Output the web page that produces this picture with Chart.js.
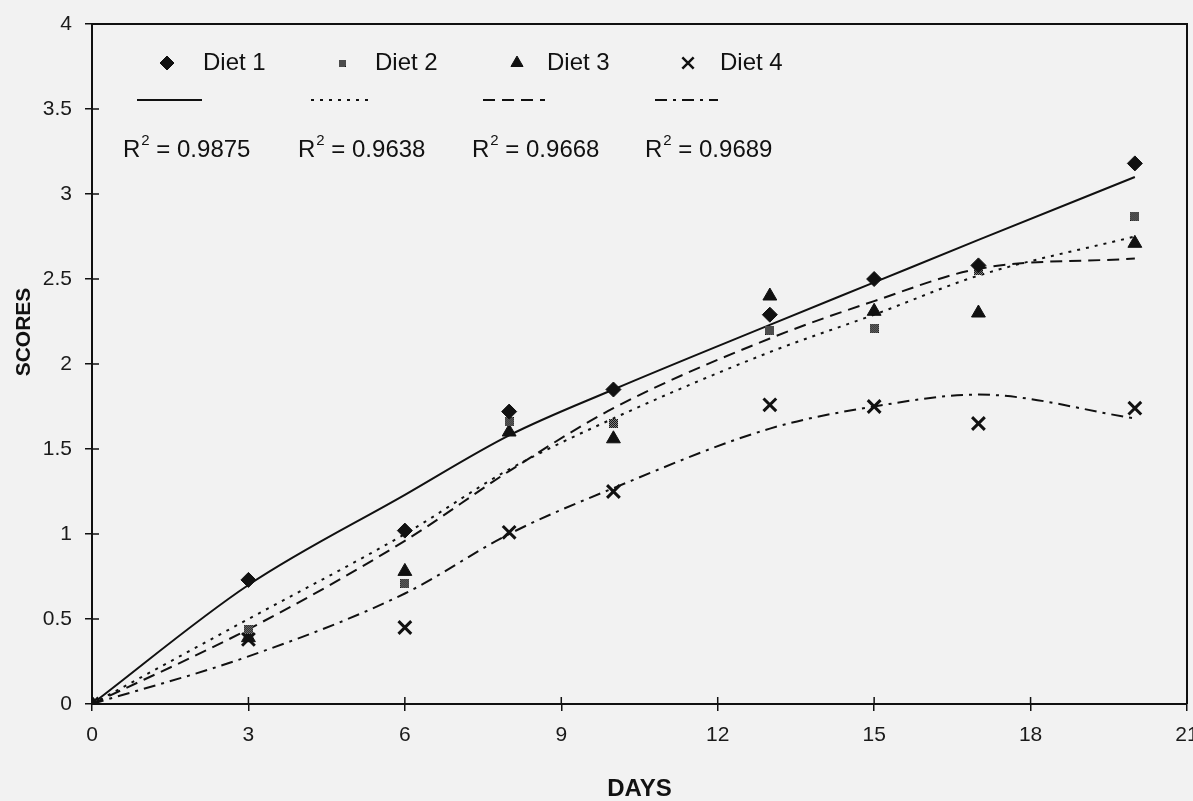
<!DOCTYPE html>
<html><head><meta charset="utf-8">
<script src="https://cdn.jsdelivr.net/npm/chart.js@4.4.0/dist/chart.umd.min.js"></script>
<style>html,body{margin:0;padding:0;background:#f2f2f2;} canvas{display:block;}</style>
</head><body>
<canvas id="c" width="1193" height="801"></canvas>
<script>
// ---- data ----
const days   = [0, 3, 6, 8, 10, 13, 15, 17, 20];
const diet1  = [0, 0.73, 1.02, 1.72, 1.85, 2.29, 2.50, 2.58, 3.18];
const diet2  = [0, 0.44, 0.71, 1.66, 1.65, 2.20, 2.21, 2.55, 2.87];
const diet3  = [0, 0.39, 0.78, 1.60, 1.56, 2.40, 2.31, 2.30, 2.71];
const diet4  = [0, 0.38, 0.45, 1.01, 1.25, 1.76, 1.75, 1.65, 1.74];
// polynomial trend lines as drawn in the picture
const trend1 = [0, 0.70, 1.23, 1.58, 1.85, 2.23, 2.48, 2.73, 3.10];
const trend2 = [0, 0.50, 1.00, 1.38, 1.68, 2.07, 2.29, 2.52, 2.75];
const trend3 = [0, 0.44, 0.96, 1.37, 1.74, 2.15, 2.37, 2.56, 2.62];
const trend4 = [0, 0.28, 0.65, 1.00, 1.27, 1.62, 1.75, 1.82, 1.68];
const seriesNames = ['Diet 1', 'Diet 2', 'Diet 3', 'Diet 4'];
const rSquared    = ['0.9875', '0.9638', '0.9668', '0.9689'];
const xTickLabels = ['0', '3', '6', '9', '12', '15', '18', '21'];
const yTickLabels = ['0', '0.5', '1', '1.5', '2', '2.5', '3', '3.5', '4'];
const xTitle = 'DAYS';
const yTitle = 'SCORES';

// ---- styles ----
const INK = '#111';
const FONT = '"Liberation Sans", Arial, Helvetica, sans-serif';

function hatchMarker(size) {
  const cv = document.createElement('canvas');
  cv.width = size; cv.height = size;
  const g = cv.getContext('2d');
  g.fillStyle = '#888'; g.fillRect(0, 0, size, size);
  g.fillStyle = '#111';
  for (let i = 0; i < size; i++) for (let j = 0; j < size; j++) {
    if ((i + j) % 2 === 0) g.fillRect(i, j, 1, 1);
  }
  return cv;
}
const hatch = hatchMarker(9);
const hatchSmall = hatchMarker(7);

const markerStyles = [
  { pointStyle: 'rectRot', radius: 7.5, borderWidth: 1 },
  { pointStyle: hatch, radius: 5, borderWidth: 0 },
  { pointStyle: 'triangle', radius: 8, borderWidth: 1 },
  { pointStyle: 'crossRot', radius: 9, borderWidth: 3 }
];
const lineDashes = [[], [3, 6], [12, 7], [12, 6, 3, 6]];

const pts = arr => days.map((d, i) => ({ x: d, y: arr[i] }));
const diets = [diet1, diet2, diet3, diet4];
const trends = [trend1, trend2, trend3, trend4];

const datasets = [];
diets.forEach((arr, k) => {
  datasets.push({
    label: seriesNames[k],
    data: pts(arr),
    showLine: false,
    pointStyle: markerStyles[k].pointStyle,
    pointRadius: markerStyles[k].radius,
    pointBorderWidth: markerStyles[k].borderWidth,
    pointBackgroundColor: INK,
    pointBorderColor: INK,
    order: 0
  });
});
trends.forEach((arr, k) => {
  datasets.push({
    label: 'Poly. (' + seriesNames[k] + ')',
    data: pts(arr),
    showLine: true,
    cubicInterpolationMode: 'monotone',
    borderColor: INK,
    borderWidth: 2,
    borderDash: lineDashes[k],
    pointRadius: 0,
    fill: false,
    order: 1
  });
});

const decor = {
  id: 'decor',
  beforeDraw(chart) {
    const c = chart.ctx;
    c.save();
    c.fillStyle = '#f2f2f2';
    c.fillRect(0, 0, chart.width, chart.height);
    c.restore();
  },
  afterDraw(chart) {
    const c = chart.ctx;
    const a = chart.chartArea;
    const xs = chart.scales.x, ys = chart.scales.y;
    c.save();
    c.strokeStyle = INK;
    // frame top and right
    c.lineWidth = 2;
    c.beginPath();
    c.moveTo(a.left, a.top); c.lineTo(a.right, a.top); c.lineTo(a.right, a.bottom);
    c.stroke();
    // inner halves of crossing ticks
    c.lineWidth = 1.5;
    c.beginPath();
    xs.ticks.forEach(t => {
      const px = xs.getPixelForValue(t.value);
      c.moveTo(px, a.bottom); c.lineTo(px, a.bottom - 7);
    });
    ys.ticks.forEach(t => {
      const py = ys.getPixelForValue(t.value);
      c.moveTo(a.left, py); c.lineTo(a.left + 7, py);
    });
    c.stroke();

    // axis titles
    c.fillStyle = INK;
    c.textAlign = 'center';
    c.textBaseline = 'middle';
    c.font = 'bold 24px ' + FONT;
    c.fillText(xTitle, (a.left + a.right) / 2, 789);
    c.save();
    c.translate(24, 332);
    c.rotate(-Math.PI / 2);
    c.font = 'bold 21px ' + FONT;
    c.fillText(yTitle, 0, 0);
    c.restore();

    // legend: markers + names
    const markX = [167, 342, 517, 688];
    const textX = [203, 375, 547, 720];
    const lineX = [[137, 202], [311, 373], [483, 545], [655, 718]];
    const r2X = [123, 298, 472, 645];
    const legendStyles = [
      { pointStyle: 'rectRot', radius: 7, borderWidth: 1 },
      { pointStyle: hatchSmall, radius: 4, borderWidth: 0 },
      { pointStyle: 'triangle', radius: 7, borderWidth: 1 },
      { pointStyle: 'crossRot', radius: 8, borderWidth: 2.5 }
    ];
    for (let k = 0; k < 4; k++) {
      c.fillStyle = INK; c.strokeStyle = INK;
      c.lineWidth = legendStyles[k].borderWidth;
      Chart.helpers.drawPoint(c, Object.assign({ rotation: 0 }, legendStyles[k]), markX[k], 63);
      c.font = '24px ' + FONT;
      c.textAlign = 'left';
      c.textBaseline = 'middle';
      c.fillText(seriesNames[k], textX[k], 63);
      // trend line sample
      c.lineWidth = 2;
      c.setLineDash(lineDashes[k]);
      c.beginPath();
      c.moveTo(lineX[k][0], 100); c.lineTo(lineX[k][1], 100);
      c.stroke();
      c.setLineDash([]);
      // R^2 text
      c.font = '24px ' + FONT;
      c.fillText('R', r2X[k], 150);
      let w = c.measureText('R').width;
      c.font = '15px ' + FONT;
      c.fillText('2', r2X[k] + w + 1, 141);
      const w2 = c.measureText('2').width;
      c.font = '24px ' + FONT;
      c.fillText(' = ' + rSquared[k], r2X[k] + w + w2 + 1, 150);
    }
    c.restore();
  }
};

new Chart(document.getElementById('c'), {
  type: 'scatter',
  data: { datasets },
  options: {
    responsive: false,
    animation: false,
    devicePixelRatio: 1,
    layout: { autoPadding: false, padding: { top: 24, right: 6, left: 0, bottom: 0 } },
    plugins: { legend: { display: false }, tooltip: { enabled: false } },
    scales: {
      x: {
        type: 'linear', min: 0, max: 21,
        afterFit(s) { s.height = 97; s.paddingRight = 0; s.paddingLeft = 0; },
        ticks: {
          stepSize: 3, color: '#1a1a1a', padding: 12,
          font: { family: FONT, size: 21 },
          callback: v => xTickLabels[Math.round(v / 3)]
        },
        grid: { drawOnChartArea: false, drawTicks: true, tickLength: 7, color: INK, lineWidth: 1.5 },
        border: { color: INK, width: 2 }
      },
      y: {
        type: 'linear', min: 0, max: 4,
        afterFit(s) { s.width = 92; s.paddingTop = 0; s.paddingBottom = 0; },
        ticks: {
          stepSize: 0.5, color: '#1a1a1a', padding: 13,
          font: { family: FONT, size: 21 },
          callback: v => yTickLabels[Math.round(v * 2)]
        },
        grid: { drawOnChartArea: false, drawTicks: true, tickLength: 7, color: INK, lineWidth: 1.5 },
        border: { color: INK, width: 2 }
      }
    }
  },
  plugins: [decor]
});
</script>
</body></html>
